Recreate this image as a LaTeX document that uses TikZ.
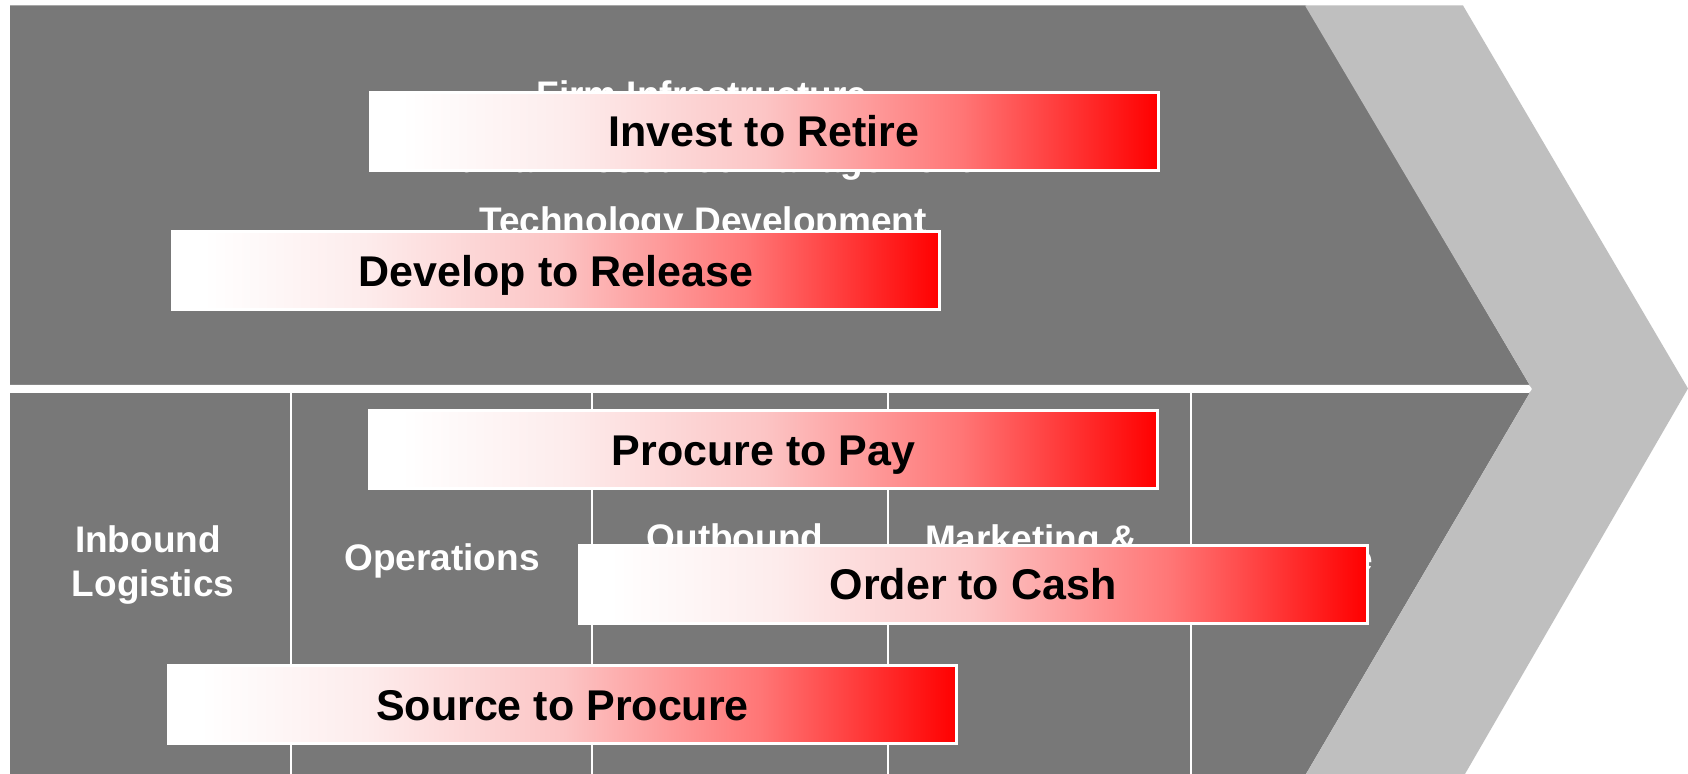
\documentclass[tikz,border=0pt]{standalone}
\usepackage{fontspec}
\setmainfont{Liberation Sans}
\definecolor{darkband}{RGB}{120,120,120}
\definecolor{chevgray}{RGB}{191,191,191}
\definecolor{gradA}{RGB}{253,236,236}
\definecolor{gradB}{RGB}{252,197,197}
\definecolor{gradC}{RGB}{255,118,118}
\pgfdeclarehorizontalshading{boxgrad}{100bp}{color(0bp)=(white); color(25bp)=(white); color(27bp)=(white); color(37.5bp)=(gradA); color(50bp)=(gradB); color(62.5bp)=(gradC); color(75bp)=(red); color(100bp)=(red)}
\tikzset{
  procbox/.style={rectangle, draw=white, line width=1.5pt, shading=boxgrad,
    minimum height=39pt, minimum width=394pt, inner sep=0pt,
    font=\bfseries\fontsize{21.5pt}{24pt}\selectfont, text=black,
    text height=15.4pt, text depth=0pt},
  bandlabel/.style={text=white, anchor=base, inner sep=0pt,
    font=\bfseries\fontsize{18.5pt}{22pt}\selectfont},
  divider/.style={draw=white, line width=1pt}
}
\begin{document}
\begin{tikzpicture}[x=0.5pt,y=-0.5pt]
\fill[white] (0,0) rectangle (1688,774);
\useasboundingbox (0,0) rectangle (1688,774);
% dark value-chain body
\fill[darkband] (10,5.5) -- (1306,5.5) -- (1532,389) -- (1306,774) -- (10,774) -- cycle;
% white separator between support and primary activities
\fill[white] (10,385) -- (1529,385) -- (1533,389) -- (1529,393) -- (10,393) -- cycle;
% column dividers
\coordinate (d1t) at (290.5,393); \coordinate (d1b) at (290.5,774);
\coordinate (d2t) at (592,393);   \coordinate (d2b) at (592,774);
\coordinate (d3t) at (888,393);   \coordinate (d3b) at (888,774);
\coordinate (d4t) at (1190.5,393);\coordinate (d4b) at (1190.5,774);
\draw[divider] (d1t) -- (d1b);
\draw[divider] (d2t) -- (d2b);
\draw[divider] (d3t) -- (d3b);
\draw[divider] (d4t) -- (d4b);
% light chevron
\fill[chevgray] (1305,5.5) -- (1463,5.5) -- (1688,388.5) -- (1465,774) -- (1306,774) -- (1532,389) -- cycle;
% support activity labels
\node[bandlabel] (firm) at (702,108) {Firm Infrastructure};
\node[bandlabel] (hrm) at (702,172.5) {Human Resource Management};
\node[bandlabel] (tech) at (703,234) {Technology Development};
% primary activity labels
\node[bandlabel] (inb1) at (148,552.5) {Inbound};
\node[bandlabel] (inb2) at (153,596.5) {Logistics};
\node[bandlabel] (ops) at (442,571) {Operations};
\node[bandlabel] (outb1) at (735,550.5) {Outbound};
\node[bandlabel] (outb2) at (735,594.5) {Logistics};
\node[bandlabel] (mkt1) at (1031,551.5) {Marketing \&};
\node[bandlabel] (mkt2) at (1031,595.5) {Sales};
\node[bandlabel] (serv) at (1307,572) {Service};
% process bars
\node[procbox] (itr) at (764,131.5) {Invest to Retire};
\node[procbox, minimum width=383.5pt] (dtr) at (556,271) {Develop to Release};
\node[procbox] (ptp) at (763.5,450) {Procure to Pay};
\node[procbox] (otc) at (973,584.5) {Order to Cash};
\node[procbox] (stp) at (562.5,705) {Source to Procure};
\end{tikzpicture}
\end{document}
